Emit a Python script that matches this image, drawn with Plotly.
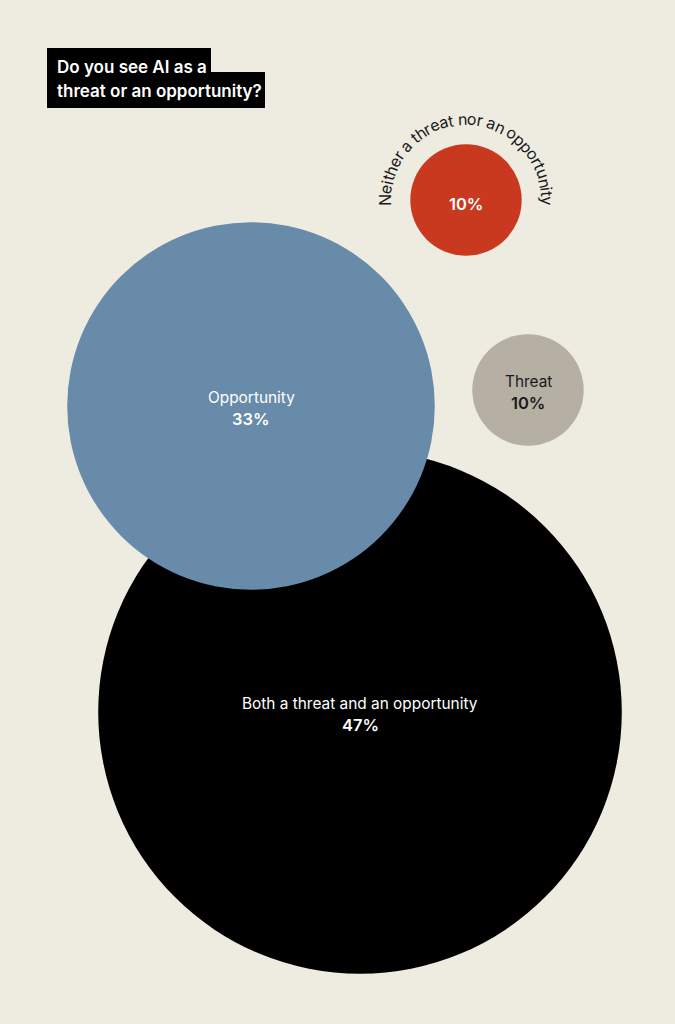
import math
import plotly.graph_objects as go

# data
labels = ["Both a threat and an opportunity", "Opportunity", "Threat",
          "Neither a threat nor an opportunity"]
values = [47, 33, 10, 10]
colors = ["#000000", "#678ba9", "#b6afa4", "#c8391f"]
# bubble centres on the 675x1024 canvas (px)
cx = [360, 251, 528, 466]
cy = [712, 406, 390, 200]

PX_PER_PCT = 5.57  # bubble radius in px per percentage point
BG = "#eeebe0"
FONT = "Inter"

fig = go.Figure()
for lab, v, c, x, y in zip(labels, values, colors, cx, cy):
    fig.add_trace(go.Scatter(
        x=[x], y=[y], mode="markers", name=lab, hoverinfo="skip",
        marker=dict(size=2 * v * PX_PER_PCT, color=c, line=dict(width=0)),
    ))

ann = []
# labels inside the bubbles
label_col = ["white", "white", "#1a1a1a"]
for i in range(3):
    ann.append(dict(x=cx[i], y=cy[i] - 9, text=labels[i], showarrow=False,
                    font=dict(family=FONT, size=15.4, color=label_col[i], weight=400)))
    ann.append(dict(x=cx[i], y=cy[i] + 13, text=f"{values[i]}%", showarrow=False,
                    font=dict(family=FONT, size=16.5, color=label_col[i], weight=600)))
ann.append(dict(x=cx[3], y=cy[3] + 4, text=f"{values[3]}%", showarrow=False,
                font=dict(family=FONT, size=16.5, color="white", weight=600)))

# curved label round the small red bubble
wid = {"N": .72, "e": .56, "i": .23, "t": .34, "h": .57, "r": .36, " ": .25,
       "a": .55, "n": .57, "o": .57, "p": .58, "u": .57, "y": .52}
arc_text = labels[3]
w = [wid.get(ch, .55) for ch in arc_text]
mids = []
acc = 0
for wi in w:
    mids.append(acc + wi / 2)
    acc += wi
a0, a1 = -90, 91
R = 81
for ch, m in zip(arc_text, mids):
    if ch == " ":
        continue
    th = a0 + (m - mids[0]) / (mids[-1] - mids[0]) * (a1 - a0)
    t = math.radians(th)
    ann.append(dict(x=cx[3] + R * math.sin(t), y=cy[3] - R * math.cos(t), text=ch,
                    textangle=th, showarrow=False, xanchor="center", yanchor="middle",
                    font=dict(family=FONT, size=16, color="#1a1a1a")))

# title in two black boxes
title_lines = ["Do you see AI as a", "threat or an opportunity?"]
shapes = [
    dict(type="rect", xref="x", yref="y", x0=47, x1=211, y0=48, y1=74,
         fillcolor="black", line_width=0, layer="below"),
    dict(type="rect", xref="x", yref="y", x0=47, x1=265, y0=72, y1=108,
         fillcolor="black", line_width=0, layer="below"),
]
for j, line in enumerate(title_lines):
    ann.append(dict(x=55, y=[67, 91][j], text=line, showarrow=False, xanchor="left",
                    font=dict(family=FONT, size=17, color="white", weight=600)))

fig.update_layout(
    width=675, height=1024, margin=dict(l=0, r=0, t=0, b=0),
    paper_bgcolor=BG, plot_bgcolor=BG, showlegend=False,
    xaxis=dict(range=[0, 675], visible=False, fixedrange=True),
    yaxis=dict(range=[1024, 0], visible=False, fixedrange=True),
    annotations=ann, shapes=shapes,
)

fig.write_html("out.html", config={"displayModeBar": False},
               post_script="document.body.style.margin='0';")
